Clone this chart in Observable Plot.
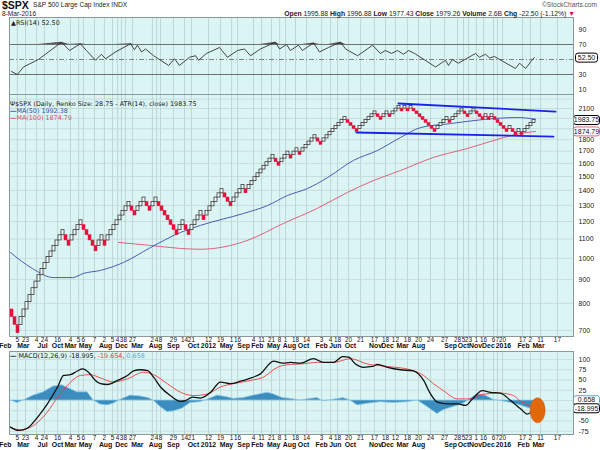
<!DOCTYPE html>
<html><head><meta charset="utf-8">
<script src="https://cdn.jsdelivr.net/npm/d3@7"></script>
<script src="https://cdn.jsdelivr.net/npm/@observablehq/plot@0.6"></script>
<style>
body{margin:0;background:#fff;}
#wrap{position:relative;width:600px;height:450px;overflow:hidden;font-family:"Liberation Sans",Arial,sans-serif;}
.abs{position:absolute;white-space:nowrap;line-height:1;}
.lg{font-family:"DejaVu Sans",Verdana,sans-serif;font-size:6.4px;}
.panel{position:absolute;left:0;}
</style></head><body><div id="wrap"></div>
<script>
// ---------------- data ----------------
const brickSize = 28.75;
const firstBrickTop = 776.25;
// Renko runs: + = consecutive up bricks, - = consecutive down bricks
const renkoRuns = [-3,15,-2,4,-5,2,-1,8,-2,3,-2,2,-7,2,-2,4,-1,6,-3,4,-1,9,-2,3,-1,2,-1,5,-2,8,-4,6,-2,2,-1,3,-1,1,-1,1,-8,4,-1,4,-2,2,-3,1,-1,1,-5,1,-2,1,-1,4];

// moving averages (brick index, price)
const ma50U = [0,7.3,14.3,20.7,24.3,30,37.7,46.7,56.7,63.3,77.7,85.7,92.3,99,105.7,114.3,122.3,130,136.7,146.7,157.7,169,175];
const ma50V = [1029,951,909,909,928,942,980,1055,1137,1177,1249,1299,1365,1413,1492,1624,1706,1819,1911,1949,1989,2008,1992.38];
const ma100U = [36,46.7,56.7,63.3,79,91,102.3,112.3,121,130,141,152.3,163.3,170,175];
const ma100V = [1082,1066,1050,1046,1093,1189,1281,1386,1470,1545,1648,1723,1810,1856,1874.79];

// trend lines (brick index, price)
const upperTrendU = [129.3,181.7], upperTrendV = [2153,2069];
const lowerTrendU = [115.3,181],   lowerTrendV = [1865,1828];

// RSI(14)
const rsiU = [0.3,2.3,4.3,9.3,17,19.7,23.3,25.3,28.3,30.3,31.7,35,40,41.3,42.3,43.7,45,47.7,52.7,54.7,56.3,59.7,61.7,62.7,65.3,69.7,72.3,75.7,78,80,83.3,88.3,89.7,92,93.3,96,97.3,101,103,106,110,111.7,115.7,120.7,123.3,125,127,129,131,132.7,134.7,141.7,145,146,147.3,149.3,155,156.3,158.3,159.7,161.3,168.3,169.7,171.7,174,174.6];
const rsiV = [34,30,40,50,73,62,71,62,49,57,51,60,71,63,69,60,64,55,42,51,42,53,55,49,58,66,53,62,64,55,64,73,64,70,62,69,62,72,60,66,73,64,55,69,58,62,58,62,57,62,58,40,49,42,50,45,58,53,57,52,54,38,45,38,50,52.5];

// MACD(12,26,9)
const macdU = [0,2.7,5.7,9,12.3,15.7,17.7,20,22.3,24,26,28.3,30,32.3,35.7,39,41,43.3,45.7,47.7,50,53.3,56.7,58.3,60.7,63.3,66.7,70,73.3,76.7,79.3,83.3,87.7,90.7,93.3,96.7,101,104.3,107.7,110.7,112.7,115,117.7,120.7,122.3,125.7,130,134.3,137.7,140,142.3,145.7,149,151.7,154,157.3,160,163.3,166.7,170,172.3,174.6];
const macdV = [-65,-73,-67,-41,-8,33,61,63,72,77,69,49,41,39,49,61,72,75,73,57,33,12,-2,0,8,6,20,45,41,47,53,65,96,91,93,91,102,93,93,107,106,89,81,83,88,81,75,72,49,16,-4,-8,-8,-12,4,24,20,18,0,-20,-33,-19];
const signalU = [0,3.3,7.7,12.3,15.7,19,23.3,26.7,30,34.3,39,44.3,47.7,52.3,56.7,61,65.7,70,74.3,80,84.3,89,93.3,96.7,102.3,107.7,113.3,119,125.7,133.3,137.7,141,144.3,149,153.3,157.3,163.3,167.7,170,172.3,174.6];
const signalV = [-65,-72,-61,-28,8,37,61,63,55,45,53,69,63,41,20,12,16,33,41,49,57,81,88,89,93,93,102,89,83,75,61,41,24,4,4,15,18,12,-2,-10,-19.7];
const histU = [0,2.3,4.3,7.7,11,14.3,17.3,19,22.3,25.7,27.7,30,32.3,34.3,36.7,40,43.3,46,47.7,50,52.3,54.3,57.3,60,63.3,65.7,69,72.3,74.3,77.7,81,85.7,87.7,90.7,93.3,96.7,100,102.3,104.3,107.7,111,113.3,115.7,119,123.3,127.7,132.3,135.7,139,142.3,144.3,147.7,151,153.3,155.7,158.3,161,165.7,170,173.3,174.6];
const histV = [0,-6,0,12,20,34,37,31,20,20,0,-10,-12,-8,2,12,10,6,0,-16,-28,-27,-20,-6,-4,2,12,8,4,6,12,19,15,6,4,0,4,6,-2,2,6,0,-12,-8,-4,-6,-4,0,-16,-33,-24,-16,-8,4,15,12,2,-4,-12,-20,0.658];
const macdMarkU = [175.7], macdMarkV = [-24];

// axis ticks and labels (labels hidden behind value boxes in the reference are left out)
const priceTicks = [700,800,900,1000,1100,1200,1300,1400,1500,1600,1700,1800,2100];
const priceGrid = [700,800,900,1000,1100,1200,1300,1400,1500,1600,1700,1800,1900,2000,2100,2200];
const rsiTicks = [10,30,70,90];
const macdTicks = [100,75,50,25,-50,-75];
const macdGrid = [100,75,50,25,0,-25,-50,-75];
const dayPos = [2.3,5,8.7,11.3,15.7,20,22.7,24.3,28,31.3,34,35.7,37,38.3,40.7,47.3,48.7,50,54.3,58,60.3,66,70,73.7,75.7,81,83.7,87,89.7,91.7,95,98.7,103.7,106.7,109,112.7,116.7,121.3,125,128.3,132.3,136,140,144.7,149,151,152.7,155.3,157.7,161,162.3,164,170.7,173.3,176.7,182.3];
const dayText = ["5","23","4","24","16","4","5","6","7","2","5","4","3","8","27","2","4","8","29","14","21","12","19","1","16","4","11","21","8","1","18","14","3","4","18","20","21","17","18","12","18","20","24","27","28","5","23","1","16","6","7","20","17","2","11","17"];
const monthPos = [-1.7,4.3,10.7,15.7,20,25,31.7,37,42.3,48.3,54.3,61,66,72,77.7,82.3,87.7,93,97.7,103.7,108.3,113.3,121.7,125.7,130.7,136,146.7,151,155,159.3,164.3,171,176];
const monthText = ["Feb","Mar","Jul","Oct","Mar","May","Aug","Dec","Mar","Aug","Sep","Oct","2012","May","Sep","Feb","May","Aug","Oct","Feb","Jun","Oct","Nov","Dec","Mar","Aug","Sep","Oct","Nov","Dec","2016","Feb","Mar"];

// right-edge value boxes
const priceBoxes = [{v:1874.79, t:"1874.79", c:"#e0607a"}, {v:1983.75, t:"1983.75", c:"#000"}];
const rsiBoxes = [{v:52.5, t:"52.50", c:"#000"}];
const macdBoxes = [{v:0.658, t:"0.658", c:"#5aa6d0"}, {v:-18.995, t:"-18.995", c:"#000"}];

// ---------------- build ----------------
const bricks = [];
{
  let prevTop = firstBrickTop + brickSize, prevBottom = firstBrickTop, k = 0;
  for (const r of renkoRuns) {
    const up = r > 0;
    for (let i = 0; i < Math.abs(r); i++) {
      let lo, hi;
      if (up) { lo = prevTop; hi = prevTop + brickSize; }
      else { hi = prevBottom; lo = prevBottom - brickSize; }
      bricks.push({k, lo, hi, up});
      prevTop = hi; prevBottom = lo; k++;
    }
  }
}
const zip = (U, V) => U.map((u, i) => ({u, v: V[i]}));
const ma50 = zip(ma50U, ma50V), ma100 = zip(ma100U, ma100V);
const upperTrend = zip(upperTrendU, upperTrendV), lowerTrend = zip(lowerTrendU, lowerTrendV);
const rsi = zip(rsiU, rsiV), macd = zip(macdU, macdV), signal = zip(signalU, signalV), hist = zip(histU, histV);
const macdMark = zip(macdMarkU, macdMarkV);
const days = dayPos.map((u, i) => ({u, t: dayText[i]}));
const months = monthPos.map((u, i) => ({u, t: monthText[i]}));

const BG = "#dbf5f5", VGRID = "#a9c3c1", HGRID = "#c4d6d6", FRAME = "#8a9a9a";
const X = {domain: [-1/3, 188 - 1/3]};
const BOXU = 192;
function boxSymbol(w, h) {
  return {draw(ctx) {
    const r = 2.5, x0 = -w/2, y0 = -h/2, x1 = w/2, y1 = h/2;
    ctx.moveTo(x0 + r, y0); ctx.lineTo(x1 - r, y0); ctx.arcTo(x1, y0, x1, y0 + r, r);
    ctx.lineTo(x1, y1 - r); ctx.arcTo(x1, y1, x1 - r, y1, r);
    ctx.lineTo(x0 + r, y1); ctx.arcTo(x0, y1, x0, y1 - r, r);
    ctx.lineTo(x0, y0 + r); ctx.arcTo(x0, y0, x0 + r, y0, r); ctx.closePath();
  }};
}
const ellipseSymbol = {draw(ctx) {
  const rx = 7.5, ry = 12.5, c = 0.5523;
  ctx.moveTo(rx, 0);
  ctx.bezierCurveTo(rx, ry*c, rx*c, ry, 0, ry);
  ctx.bezierCurveTo(-rx*c, ry, -rx, ry*c, -rx, 0);
  ctx.bezierCurveTo(-rx, -ry*c, -rx*c, -ry, 0, -ry);
  ctx.bezierCurveTo(rx*c, -ry, rx, -ry*c, rx, 0);
  ctx.closePath();
}};
const tickText = (ticks) => Plot.text(ticks, {y: d => d, text: d => String(d), frameAnchor: "right", dx: 5, textAnchor: "start", fontSize: 7, fill: "#222", fontFamily: "Liberation Sans, Arial"});
const boxMarks = (boxes, w) => [
  Plot.dot(boxes, {x: () => BOXU, y: "v", symbol: boxSymbol(w, 9), r: 5, fill: "#fff", stroke: "c", strokeWidth: 1}),
  Plot.text(boxes, {x: () => BOXU, y: "v", text: "t", fontSize: 7, fill: "#111", fontFamily: "Liberation Sans, Arial"})
];
const dateMarks = (dyD, dyM) => [
  Plot.text(days, {x: "u", text: "t", frameAnchor: "bottom", dy: dyD, fontSize: 6.4, fill: "#111", fontFamily: "Liberation Sans, Arial"}),
  Plot.text(months, {x: "u", text: "t", frameAnchor: "bottom", dy: dyM, fontSize: 6.9, fontWeight: "bold", fill: "#111", fontFamily: "Liberation Sans, Arial"})
];

const wrap = document.getElementById("wrap");
function place(node, top) { node.classList.add("panel"); node.style.top = top + "px"; wrap.appendChild(node); }

// RSI panel
const rsiPlot = Plot.plot({
  width: 600, height: 77, marginTop: 0, marginBottom: 0, marginLeft: 9, marginRight: 27,
  x: {...X, axis: null}, y: {domain: [3.33, 106], axis: null},
  marks: [
    Plot.frame({fill: BG}),
    Plot.ruleX(dayPos, {stroke: VGRID, strokeWidth: 0.6}),
    Plot.ruleY([70, 30], {stroke: "#707070", strokeWidth: 1}),
    Plot.ruleY([50], {stroke: "#666", strokeWidth: 0.8, strokeDasharray: "5,2,1,2"}),
    Plot.areaY(rsi, {x: "u", y1: 70, y2: d => Math.max(70, d.v), fill: "#555"}),
    Plot.line(rsi, {x: "u", y: "v", stroke: "#333", strokeWidth: 0.9}),
    tickText(rsiTicks),
    ...boxMarks(rsiBoxes, 22),
    Plot.frame({stroke: FRAME})
  ]
});
place(rsiPlot, 17);

// Price panel
const pricePlot = Plot.plot({
  width: 600, height: 256, marginTop: 0, marginBottom: 14, marginLeft: 9, marginRight: 27,
  x: {...X, axis: null}, y: {type: "log", domain: [679, 2251], axis: null},
  marks: [
    Plot.frame({fill: BG}),
    Plot.ruleX(dayPos, {stroke: VGRID, strokeWidth: 0.6}),
    Plot.ruleY(priceGrid, {stroke: HGRID, strokeWidth: 0.8}),
    Plot.line(ma100, {x: "u", y: "v", stroke: "#e0506e", strokeWidth: 0.9, curve: "monotone-x"}),
    Plot.line(ma50, {x: "u", y: "v", stroke: "#3a4bb0", strokeWidth: 0.9, curve: "monotone-x"}),
    Plot.line(upperTrend, {x: "u", y: "v", stroke: "#1a22f0", strokeWidth: 1.8}),
    Plot.line(lowerTrend, {x: "u", y: "v", stroke: "#1a22f0", strokeWidth: 1.8}),
    Plot.rect(bricks.filter(d => d.up), {x1: "k", x2: d => d.k + 1, y1: "lo", y2: "hi", fill: "#eefbfb", stroke: "#3a3a3a", strokeWidth: 0.8}),
    Plot.rect(bricks.filter(d => !d.up), {x1: "k", x2: d => d.k + 1, y1: "lo", y2: "hi", fill: "#e3123c", stroke: "#e3123c", strokeWidth: 0.5}),
    tickText(priceTicks),
    ...boxMarks(priceBoxes, 26),
    ...dateMarks(5, 11.5),
    Plot.frame({stroke: FRAME})
  ]
});
place(pricePlot, 94);

// MACD panel
const macdPlot = Plot.plot({
  width: 600, height: 99, marginTop: 0, marginBottom: 16, marginLeft: 9, marginRight: 27,
  x: {...X, axis: null}, y: {domain: [-82.9, 119.5], axis: null},
  marks: [
    Plot.frame({fill: BG}),
    Plot.ruleX(dayPos, {stroke: VGRID, strokeWidth: 0.6}),
    Plot.ruleY(macdGrid, {stroke: HGRID, strokeWidth: 0.7}),
    Plot.areaY(hist, {x: "u", y1: 0, y2: "v", fill: "#3b8cbf", stroke: "#8fcbe8", strokeWidth: 0.8}),
    Plot.line(signal, {x: "u", y: "v", stroke: "#f03c3c", strokeWidth: 0.9, curve: "monotone-x"}),
    Plot.line(macd, {x: "u", y: "v", stroke: "#111", strokeWidth: 1.3, curve: "monotone-x"}),
    Plot.dot(macdMark, {x: "u", y: "v", symbol: ellipseSymbol, r: 8, fill: "#e2680c", stroke: "#c85a08", strokeWidth: 0.5}),
    tickText(macdTicks),
    ...boxMarks(macdBoxes, 26),
    ...dateMarks(5, 12.5),
    Plot.frame({stroke: FRAME})
  ]
});
place(macdPlot, 351);

// ---------------- header and legends ----------------
function addText(html, css, cls) {
  const d = document.createElement("div");
  d.className = "abs" + (cls ? " " + cls : "");
  d.innerHTML = html; Object.assign(d.style, css); wrap.appendChild(d);
}
addText("$SPX", {left: "2px", top: "0px", fontSize: "10.5px", fontWeight: "bold", color: "#111"});
addText("S&amp;P 500 Large Cap Index INDX", {left: "33px", top: "2px", fontSize: "6.6px", color: "#222"});
addText("8-Mar-2016", {left: "2px", top: "11px", fontSize: "6.6px", color: "#222"});
addText("&copy;StockCharts.com", {right: "3px", top: "2px", fontSize: "6.6px", color: "#555"});
addText("<b>Open</b> 1995.88 <b>High</b> 1996.88 <b>Low</b> 1977.43 <b>Close</b> 1979.26 <b>Volume</b> 2.6B <b>Chg</b> -22.50 (-1.12%) <span style='color:#d0104c'>&#9660;</span>",
  {right: "25px", top: "11px", fontSize: "6.8px", color: "#222"});
addText("&#9650;RSI(14) 52.50", {left: "11px", top: "20px", color: "#222"}, "lg");
addText("&#936;$SPX (Daily, Renko Size: 28.75 - ATR(14), close) 1983.75", {left: "10px", top: "101px", color: "#222"}, "lg");
addText("<span style='font-weight:bold'>&#8212;</span>MA(50) 1992.38", {left: "10px", top: "108px", color: "#3a4bb0"}, "lg");
addText("<span style='font-weight:bold'>&#8212;</span>MA(100) 1874.79", {left: "10px", top: "115px", color: "#e0506e"}, "lg");
addText("<b>&#8212;</b> MACD(12,26,9) -18.995, <span style='color:#f03c3c'>-19.654</span>, <span style='color:#5aa6d0'>0.658</span>", {left: "10px", top: "353px", color: "#222"}, "lg");
</script>
</body></html>
